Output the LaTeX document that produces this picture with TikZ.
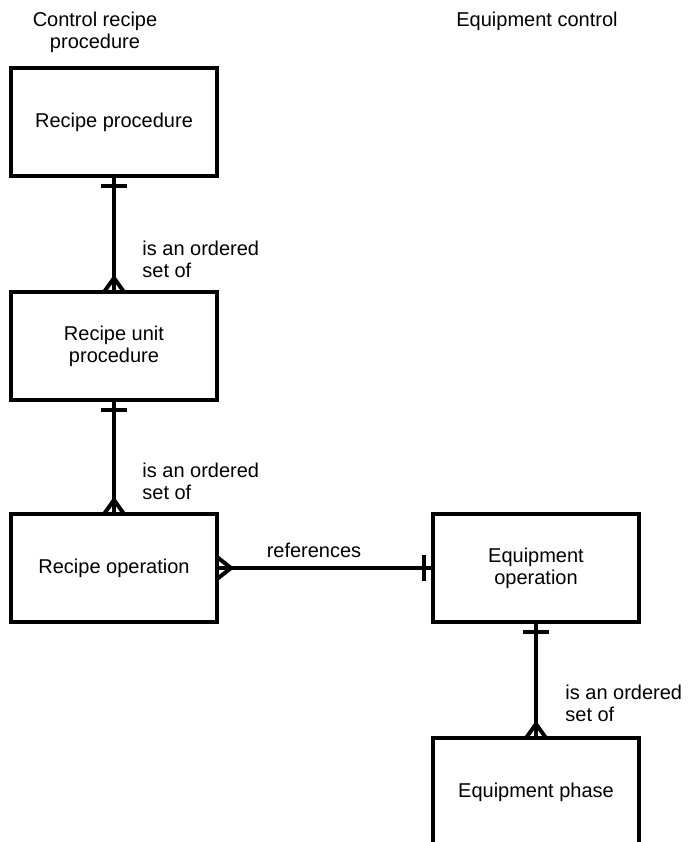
\documentclass[tikz,border=0pt]{standalone}
\usepackage{fontspec}
\setmainfont{Liberation Sans}
\usetikzlibrary{calc}
\tikzset{
	entity/.style={draw, line width=2pt, minimum width=103pt, minimum height=54pt, inner sep=0pt, outer sep=0pt, align=center},
	link/.style={line width=2pt, line join=round},
	relname/.style={align=left, inner sep=0pt}
}
%bar at the "one" end, #1 = centre of the bar, #2 = half length
\newcommand{\onebarv}[2]{
\begin{scope}[shift={#1}]
	\draw[link] (-#2,0) -- (#2,0);
\end{scope}
}
\newcommand{\onebarh}[2]{
\begin{scope}[shift={#1}]
	\draw[link] (0,-#2) -- (0,#2);
\end{scope}
}

\begin{document}
\begin{tikzpicture}[x=0.5pt, y=-0.5pt, font=\fontsize{10}{11}\selectfont]
	\useasboundingbox (0,0) rectangle (687,842);

	%column titles
	\node[align=center, inner sep=0pt, anchor=north] (ttlrecipe) at (95,12) {Control recipe\\procedure};
	\node[align=center, inner sep=0pt, anchor=north] (ttlequip) at (537,12) {Equipment control};

	%entities
	\node[entity] (rp) at (114,122) {Recipe procedure};
	\node[entity] (rup) at (114,346) {Recipe unit\\procedure};
	\node[entity] (rop) at (114,568) {Recipe operation};
	\node[entity] (eop) at (536,568) {Equipment\\operation};
	\node[entity] (eph) at (536,792) {Equipment phase};

	%relations
	\draw[link] (rp.south) -- (rup.north);
	\draw[link] (rup.south) -- (rop.north);
	\draw[link] (rop.east) -- (eop.west);
	\draw[link] (eop.south) -- (eph.north);

	%one ends
	\onebarv{($(rp.south)+(0,10)$)}{13}
	\onebarv{($(rup.south)+(0,10)$)}{13}
	\onebarv{($(eop.south)+(0,10)$)}{13}
	\onebarh{($(eop.west)+(-9,0)$)}{13}

	%many ends
	\draw[link] ($(rup.north)+(-10,0)$) -- ($(rup.north)+(0,-14)$) -- ($(rup.north)+(10,0)$);
	\draw[link] ($(rop.north)+(-10,0)$) -- ($(rop.north)+(0,-14)$) -- ($(rop.north)+(10,0)$);
	\draw[link] ($(eph.north)+(-10,0)$) -- ($(eph.north)+(0,-14)$) -- ($(eph.north)+(10,0)$);
	\draw[link] ($(rop.east)+(0,-11)$) -- ($(rop.east)+(14,0)$) -- ($(rop.east)+(0,11)$);

	%relation labels
	\node[relname, anchor=north west] (lbla) at (142,241) {is an ordered\\set of};
	\node[relname, anchor=north west] (lblb) at (142,463) {is an ordered\\set of};
	\node[relname, anchor=north west] (lblc) at (565,685) {is an ordered\\set of};
	\node[relname, anchor=base] (lblref) at (314,557) {references};
\end{tikzpicture}
\end{document}
